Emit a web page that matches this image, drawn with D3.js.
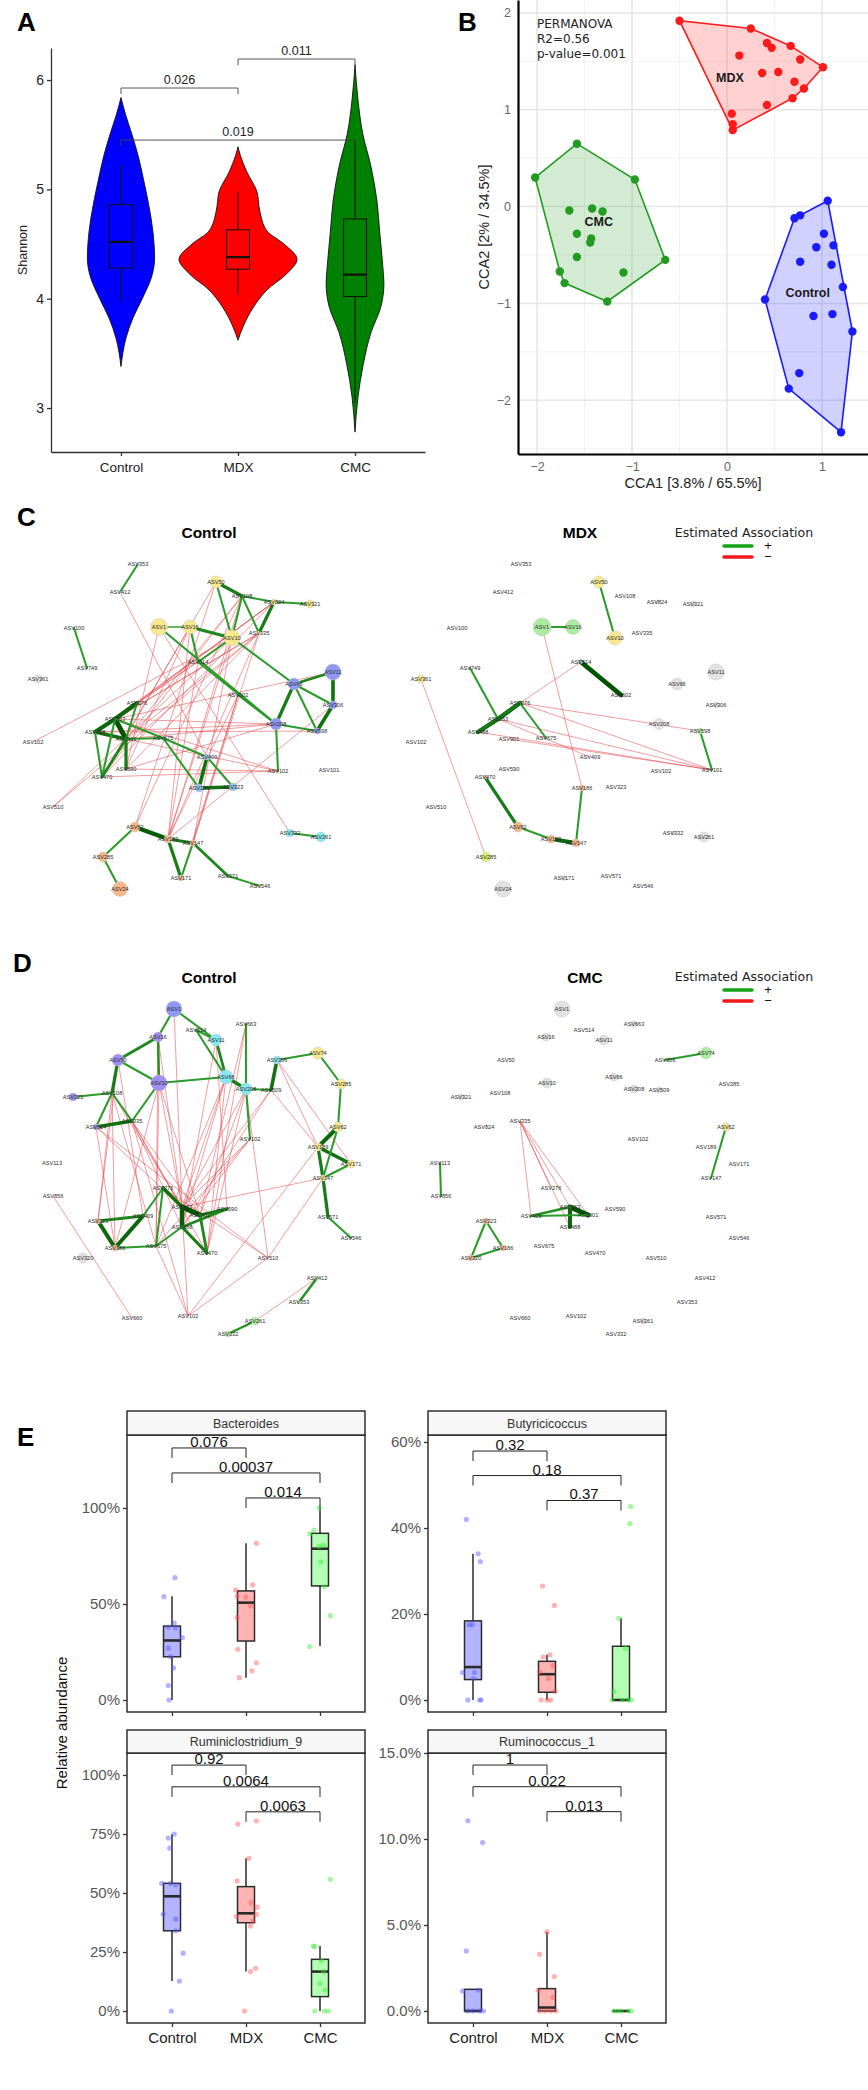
<!DOCTYPE html>
<html>
<head>
<meta charset="utf-8">
<script src="https://cdn.jsdelivr.net/npm/d3@7"></script>
<style>
  body { margin: 0; background: #fff; }
  svg text { font-family: "Liberation Sans", Arial, sans-serif; }
</style>
</head>
<body>
<div id="figure"></div>
<script>
var groups = ["Control", "MDX", "CMC"];

// ---- A: Shannon index (violin outline as [value, relative density]) ----
var shannonTicks = [3, 4, 5, 6];
var violinControl = [[3.38, 0], [3.64, 0.085], [3.82, 0.2], [4.0, 0.36], [4.22, 0.53], [4.37, 0.57], [4.62, 0.54], [4.86, 0.47], [5.07, 0.39], [5.31, 0.29], [5.53, 0.17], [5.68, 0.08], [5.84, 0]];
var violinMDX = [[3.62, 0], [3.75, 0.09], [3.93, 0.27], [4.08, 0.49], [4.23, 0.83], [4.36, 1.0], [4.5, 0.78], [4.62, 0.49], [4.8, 0.37], [4.98, 0.32], [5.16, 0.15], [5.31, 0.04], [5.39, 0]];
var violinCMC = [[2.78, 0], [3.1, 0.05], [3.4, 0.14], [3.69, 0.27], [3.93, 0.44], [4.14, 0.49], [4.3, 0.47], [4.6, 0.42], [4.9, 0.37], [5.21, 0.27], [5.51, 0.13], [5.82, 0.05], [6.14, 0]];
// [lower whisker, q1, median, q3, upper whisker]
var shannonBoxes = [[3.97, 4.28, 4.52, 4.86, 5.22], [4.04, 4.27, 4.38, 4.63, 4.98], [3.05, 4.02, 4.22, 4.73, 5.45]];
var shannonTests = [["Control", "MDX", "0.026", 5.927], ["MDX", "CMC", "0.011", 6.192], ["Control", "CMC", "0.019", 5.451]];

// ---- B: CCA ordination ----
var ccaXTicks = [-2, -1, 0, 1];
var ccaYTicks = [-2, -1, 0, 1, 2];
var ccaMDX = [[-0.5, 1.92], [0.25, 1.84], [0.42, 1.69], [0.47, 1.64], [0.67, 1.66], [0.13, 1.56], [0.77, 1.52], [1.01, 1.44], [0.37, 1.38], [0.54, 1.39], [0.71, 1.29], [0.81, 1.22], [0.69, 1.12], [0.42, 1.05], [0.05, 0.96], [0.06, 0.85], [0.06, 0.79]];
var ccaCMC = [[-1.58, 0.65], [-2.02, 0.3], [-0.97, 0.28], [-1.66, -0.04], [-1.42, -0.02], [-1.31, -0.05], [-1.58, -0.28], [-1.43, -0.33], [-1.44, -0.37], [-1.58, -0.52], [-0.65, -0.55], [-1.76, -0.67], [-1.09, -0.68], [-1.71, -0.79], [-1.26, -0.98]];
var ccaControl = [[1.06, 0.06], [0.77, -0.09], [0.71, -0.12], [1.02, -0.28], [0.94, -0.42], [1.12, -0.4], [0.77, -0.57], [1.1, -0.6], [1.22, -0.83], [0.4, -0.96], [0.91, -1.13], [1.11, -1.11], [1.32, -1.29], [0.76, -1.72], [0.65, -1.88], [1.2, -2.33]];
var ccaLabels = [["MDX", 0.03, 1.33], ["CMC", -1.35, -0.16], ["Control", 0.85, -0.89]];
var permanova = ["PERMANOVA", "R2=0.56", "p-value=0.001"];

// ---- C: networks Control / MDX (shared layout) ----
var layoutC = [["ASV353", 138, 4], ["ASV412", 120, 32], ["ASV100", 74, 68], ["ASV749", 87, 108], ["ASV361", 38, 119],
  ["ASV50", 216, 22], ["ASV108", 242, 36], ["ASV824", 274, 42], ["ASV321", 310, 44], ["ASV1", 159, 67],
  ["ASV16", 190, 67], ["ASV10", 232, 78], ["ASV335", 259, 73], ["ASV514", 198, 102], ["ASV66", 294, 124],
  ["ASV11", 333, 112], ["ASV602", 238, 135], ["ASV276", 137, 143], ["ASV263", 115, 159], ["ASV488", 95, 172],
  ["ASV102'", 33, 182], ["ASV901", 126, 179], ["ASV675", 163, 178], ["ASV208", 276, 164], ["ASV306", 333, 145],
  ["ASV598", 317, 171], ["ASV409", 207, 197], ["ASV590", 126, 209], ["ASV102", 278, 211], ["ASV101", 329, 210],
  ["ASV470", 102, 217], ["ASV186", 199, 228], ["ASV323", 233, 227], ["ASV510", 53, 247], ["ASV62", 135, 267],
  ["ASV332", 290, 273], ["ASV261", 321, 277], ["ASV189", 168, 279], ["ASV147", 193, 283], ["ASV285", 103, 297],
  ["ASV571", 228, 316], ["ASV171", 181, 318], ["ASV546", 260, 326], ["ASV24", 120, 329]];
// node cluster colour code and radius
var nodesCControl = { ASV353: ["c", 1.5], ASV412: ["c", 1.5], ASV361: ["g", 4], ASV50: ["y", 6], ASV824: ["y", 3], ASV321: ["y", 4],
  ASV1: ["y", 8.5], ASV16: ["y", 7], ASV10: ["y", 8], ASV335: ["y", 2], ASV66: ["b", 6], ASV11: ["b", 8], ASV208: ["b", 6],
  ASV306: ["b", 4], ASV598: ["b", 3], ASV409: ["lb", 3], ASV186: ["lb", 4], ASV323: ["lb", 4], ASV62: ["o", 5],
  ASV332: ["c", 4], ASV261: ["c", 5], ASV189: ["o", 4], ASV147: ["o", 3], ASV285: ["o", 5], ASV171: ["o", 3],
  ASV546: ["o", 1.5], ASV24: ["o", 7.5] };
var nodesCMDX = { ASV1: ["lg", 9], ASV16: ["lg", 7.5], ASV50: ["y", 6], ASV10: ["y", 7], ASV11: ["g", 8], ASV66: ["g", 6],
  ASV208: ["g", 5.5], ASV306: ["g", 3], ASV598: ["lg", 3], ASV361: ["y", 4], ASV62: ["o", 5], ASV189: ["o", 4],
  ASV147: ["o", 4], ASV186: ["o", 3], ASV285: ["yg", 5], ASV24: ["g", 8], ASV171: ["g", 2.5], ASV332: ["g", 2],
  ASV261: ["g", 5], ASV321: ["g", 3], ASV514: ["c", 1.5], ASV824: ["g", 2], ASV470: ["o", 2] };
var edgesCControl = [["ASV353", "ASV412", 0.3], ["ASV100", "ASV749", 0.3], ["ASV1", "ASV16", 0.2], ["ASV16", "ASV10", 0.5],
  ["ASV50", "ASV108", 0.6], ["ASV50", "ASV10", 0.3], ["ASV108", "ASV824", 0.3], ["ASV108", "ASV10", 0.3], ["ASV108", "ASV335", 0.3],
  ["ASV824", "ASV335", 0.6], ["ASV824", "ASV321", 0.3], ["ASV10", "ASV514", 0.3], ["ASV16", "ASV514", 0.3], ["ASV1", "ASV208", 0.3],
  ["ASV10", "ASV66", 0.3], ["ASV66", "ASV11", 0.5], ["ASV11", "ASV306", 0.7], ["ASV66", "ASV306", 0.3], ["ASV306", "ASV598", 0.7],
  ["ASV66", "ASV598", 0.3], ["ASV66", "ASV208", 0.6], ["ASV208", "ASV102", 0.3], ["ASV602", "ASV208", 0.3], ["ASV208", "ASV598", 0.3],
  ["ASV675", "ASV186", 0.3], ["ASV675", "ASV409", 0.3], ["ASV409", "ASV186", 0.7], ["ASV186", "ASV323", 0.7], ["ASV409", "ASV323", 0.3],
  ["ASV276", "ASV263", 0.8], ["ASV263", "ASV901", 1.0], ["ASV488", "ASV263", 0.8], ["ASV488", "ASV901", 0.7], ["ASV276", "ASV901", 0.3],
  ["ASV901", "ASV590", 0.6], ["ASV488", "ASV470", 0.3], ["ASV263", "ASV470", 0.3], ["ASV901", "ASV470", 0.5], ["ASV901", "ASV675", 0.3],
  ["ASV263", "ASV675", 0.3], ["ASV62", "ASV189", 0.9], ["ASV62", "ASV285", 0.3], ["ASV285", "ASV24", 0.3], ["ASV189", "ASV147", 0.6],
  ["ASV189", "ASV171", 0.6], ["ASV147", "ASV171", 0.3], ["ASV147", "ASV571", 0.5], ["ASV571", "ASV546", 0.3], ["ASV332", "ASV261", 0.3],
  ["ASV514", "ASV208", 0.3],
  ["ASV412", "ASV409", -1], ["ASV16", "ASV470", -1], ["ASV16", "ASV590", -1], ["ASV16", "ASV189", -1], ["ASV10", "ASV488", -1],
  ["ASV10", "ASV263", -1], ["ASV10", "ASV102'", -1], ["ASV10", "ASV189", -1], ["ASV10", "ASV147", -1], ["ASV10", "ASV510", -1],
  ["ASV108", "ASV470", -1], ["ASV108", "ASV901", -1], ["ASV108", "ASV189", -1], ["ASV108", "ASV62", -1], ["ASV335", "ASV488", -1],
  ["ASV335", "ASV263", -1], ["ASV335", "ASV510", -1], ["ASV335", "ASV189", -1], ["ASV335", "ASV901", -1], ["ASV335", "ASV147", -1],
  ["ASV335", "ASV590", -1], ["ASV824", "ASV488", -1], ["ASV824", "ASV263", -1], ["ASV824", "ASV276", -1], ["ASV824", "ASV470", -1],
  ["ASV602", "ASV189", -1], ["ASV602", "ASV147", -1], ["ASV602", "ASV171", -1], ["ASV208", "ASV488", -1], ["ASV208", "ASV263", -1],
  ["ASV208", "ASV901", -1], ["ASV208", "ASV590", -1], ["ASV102", "ASV263", -1], ["ASV102", "ASV590", -1], ["ASV102", "ASV470", -1],
  ["ASV102", "ASV901", -1], ["ASV306", "ASV189", -1], ["ASV1", "ASV332", -1], ["ASV50", "ASV470", -1], ["ASV50", "ASV62", -1],
  ["ASV1", "ASV590", -1], ["ASV514", "ASV189", -1], ["ASV11", "ASV263", -1], ["ASV598", "ASV488", -1]];
var edgesCMDX = [["ASV1", "ASV16", 0.3], ["ASV50", "ASV10", 0.3], ["ASV514", "ASV602", 1.0], ["ASV749", "ASV263", 0.3],
  ["ASV276", "ASV263", 0.9], ["ASV263", "ASV488", 0.9], ["ASV276", "ASV488", 0.6], ["ASV276", "ASV675", 0.3], ["ASV598", "ASV101", 0.3],
  ["ASV470", "ASV62", 0.6], ["ASV62", "ASV189", 0.3], ["ASV189", "ASV147", 0.8], ["ASV186", "ASV147", 0.3],
  ["ASV1", "ASV186", -1], ["ASV514", "ASV276", -1], ["ASV361", "ASV285", -1], ["ASV276", "ASV101", -1], ["ASV263", "ASV101", -1],
  ["ASV488", "ASV101", -1], ["ASV901", "ASV101", -1], ["ASV276", "ASV598", -1], ["ASV263", "ASV409", -1]];

// ---- D: networks Control / CMC (shared layout) ----
var layoutD = [["ASV1", 174, 9], ["ASV16", 158, 37], ["ASV514", 196, 30], ["ASV11", 216, 40], ["ASV663", 246, 24], ["ASV50", 118, 60],
  ["ASV306", 277, 60], ["ASV74", 318, 53], ["ASV66", 226, 77], ["ASV10", 159, 83], ["ASV208", 246, 89], ["ASV509", 271, 90],
  ["ASV285", 341, 84], ["ASV108", 112, 93], ["ASV321", 73, 97], ["ASV335", 132, 121], ["ASV824", 96, 127], ["ASV62", 338, 127],
  ["ASV102", 250, 139], ["ASV189", 318, 147], ["ASV113", 52, 163], ["ASV171", 351, 164], ["ASV147", 323, 178], ["ASV276", 163, 188],
  ["ASV856", 53, 196], ["ASV263", 182, 207], ["ASV590", 227, 209], ["ASV901", 200, 215], ["ASV409", 143, 216], ["ASV571", 328, 217],
  ["ASV323", 98, 221], ["ASV488", 182, 227], ["ASV546", 351, 238], ["ASV675", 156, 246], ["ASV186", 115, 248], ["ASV470", 207, 253],
  ["ASV320", 83, 258], ["ASV510", 268, 258], ["ASV412", 317, 278], ["ASV353", 299, 302], ["ASV102'", 188, 316], ["ASV660", 132, 318],
  ["ASV261", 255, 321], ["ASV332", 228, 334]];
var nodesDControl = { ASV1: ["b", 8], ASV16: ["p", 5], ASV50: ["p", 6], ASV10: ["p", 8], ASV321: ["p", 4], ASV824: ["p", 3],
  ASV11: ["c", 6], ASV66: ["c", 7], ASV208: ["c", 6], ASV306: ["c", 4], ASV74: ["y", 6], ASV285: ["y", 5], ASV62: ["y", 5],
  ASV189: ["y", 4], ASV171: ["y", 4], ASV147: ["y", 3], ASV323: ["o", 3], ASV186: ["o", 3], ASV320: ["g", 5],
  ASV261: ["lg", 4], ASV332: ["lg", 3], ASV412: ["lg", 2], ASV353: ["lg", 2] };
var nodesDCMC = { ASV1: ["g", 8], ASV16: ["g", 4], ASV11: ["g", 5], ASV10: ["g", 5], ASV66: ["g", 4], ASV208: ["g", 4],
  ASV321: ["g", 3], ASV509: ["g", 3], ASV663: ["g", 3], ASV74: ["lg", 6], ASV62: ["y", 4], ASV323: ["o", 3], ASV186: ["o", 3],
  ASV320: ["o", 3], ASV261: ["g", 3] };
var edgesDControl = [["ASV1", "ASV16", 0.3], ["ASV1", "ASV11", 0.3], ["ASV16", "ASV50", 0.5], ["ASV16", "ASV10", 0.4], ["ASV11", "ASV66", 0.5],
  ["ASV514", "ASV66", 0.3], ["ASV663", "ASV208", 0.3], ["ASV11", "ASV514", 0.3], ["ASV10", "ASV66", 0.3], ["ASV66", "ASV208", 0.6],
  ["ASV208", "ASV509", 0.3], ["ASV306", "ASV509", 0.7], ["ASV208", "ASV102", 0.3], ["ASV50", "ASV108", 0.6], ["ASV50", "ASV10", 0.3],
  ["ASV321", "ASV108", 0.3], ["ASV108", "ASV824", 0.3], ["ASV108", "ASV335", 0.3], ["ASV824", "ASV335", 0.7], ["ASV10", "ASV335", 0.3],
  ["ASV74", "ASV285", 0.3], ["ASV74", "ASV306", 0.3], ["ASV285", "ASV62", 0.3], ["ASV62", "ASV189", 0.8], ["ASV189", "ASV171", 0.7],
  ["ASV189", "ASV147", 0.6], ["ASV62", "ASV147", 0.3], ["ASV147", "ASV171", 0.3], ["ASV147", "ASV571", 0.6], ["ASV571", "ASV546", 0.3],
  ["ASV412", "ASV353", 0.4], ["ASV276", "ASV263", 0.7], ["ASV263", "ASV901", 1.0], ["ASV263", "ASV488", 0.9], ["ASV901", "ASV590", 0.6],
  ["ASV488", "ASV590", 0.5], ["ASV488", "ASV470", 0.6], ["ASV901", "ASV470", 0.5], ["ASV276", "ASV675", 0.3], ["ASV488", "ASV675", 0.3],
  ["ASV323", "ASV409", 0.5], ["ASV323", "ASV186", 0.8], ["ASV409", "ASV186", 0.8], ["ASV186", "ASV675", 0.3], ["ASV261", "ASV332", 0.4],
  ["ASV409", "ASV276", 0.3],
  ["ASV108", "ASV186", -1], ["ASV108", "ASV323", -1], ["ASV108", "ASV675", -1], ["ASV108", "ASV263", -1], ["ASV335", "ASV263", -1],
  ["ASV335", "ASV488", -1], ["ASV335", "ASV470", -1], ["ASV335", "ASV901", -1], ["ASV335", "ASV102'", -1], ["ASV824", "ASV186", -1],
  ["ASV824", "ASV263", -1], ["ASV824", "ASV510", -1], ["ASV10", "ASV675", -1], ["ASV10", "ASV186", -1], ["ASV10", "ASV263", -1],
  ["ASV10", "ASV901", -1], ["ASV66", "ASV263", -1], ["ASV66", "ASV488", -1], ["ASV66", "ASV675", -1], ["ASV66", "ASV470", -1],
  ["ASV208", "ASV263", -1], ["ASV208", "ASV901", -1], ["ASV208", "ASV470", -1], ["ASV208", "ASV510", -1], ["ASV102", "ASV488", -1],
  ["ASV102", "ASV675", -1], ["ASV102", "ASV263", -1], ["ASV509", "ASV263", -1], ["ASV509", "ASV488", -1], ["ASV509", "ASV189", -1],
  ["ASV306", "ASV189", -1], ["ASV306", "ASV171", -1], ["ASV856", "ASV660", -1], ["ASV102'", "ASV675", -1], ["ASV102'", "ASV263", -1],
  ["ASV102'", "ASV510", -1], ["ASV412", "ASV261", -1], ["ASV147", "ASV510", -1], ["ASV189", "ASV102'", -1], ["ASV50", "ASV323", -1],
  ["ASV50", "ASV409", -1], ["ASV16", "ASV263", -1], ["ASV16", "ASV675", -1], ["ASV1", "ASV263", -1], ["ASV11", "ASV488", -1],
  ["ASV11", "ASV590", -1], ["ASV663", "ASV901", -1], ["ASV663", "ASV470", -1], ["ASV276", "ASV510", -1], ["ASV263", "ASV147", -1]];
var edgesDCMC = [["ASV113", "ASV856", 0.3], ["ASV323", "ASV186", 0.3], ["ASV323", "ASV320", 0.3], ["ASV186", "ASV320", 0.3],
  ["ASV263", "ASV901", 1.0], ["ASV263", "ASV488", 0.8], ["ASV409", "ASV263", 0.4], ["ASV409", "ASV901", 0.3], ["ASV74", "ASV306", 0.3],
  ["ASV62", "ASV147", 0.3],
  ["ASV335", "ASV263", -1], ["ASV335", "ASV488", -1], ["ASV335", "ASV409", -1], ["ASV335", "ASV901", -1], ["ASV335", "ASV276", -1]];

// ---- E: relative abundance by genus ----
// box stats [lower whisker, q1, median, q3, upper whisker] per group; points [value, jitter]
var bacteroidesBoxes = [[0.0, 0.225, 0.31, 0.385, 0.54], [0.116, 0.307, 0.507, 0.568, 0.816], [0.281, 0.594, 0.788, 0.868, 1.0]];
var bacteroidesPts = [
  [[0.637, 0.04], [0.538, -0.11], [0.40, 0.03], [0.38, -0.05], [0.375, 0.05], [0.325, 0.14], [0.27, -0.05], [0.225, -0.02], [0.167, 0.02], [0.075, -0.05], [0.0, -0.04]],
  [[0.816, 0.14], [0.60, 0.09], [0.573, -0.14], [0.54, -0.12], [0.536, 0.0], [0.49, 0.06], [0.43, -0.12], [0.264, -0.11], [0.194, 0.14], [0.152, 0.08], [0.116, -0.09]],
  [[1.0, -0.01], [0.885, -0.08], [0.865, -0.14], [0.806, 0.05], [0.80, -0.01], [0.72, 0.01], [0.59, 0.06], [0.439, 0.14], [0.278, -0.14]]];
var bacteroidesTests = [["Control", "MDX", "0.076", 1.3125], ["Control", "CMC", "0.00037", 1.1823], ["MDX", "CMC", "0.014", 1.0521]];

var butyricicoccusBoxes = [[0.0, 0.0475, 0.0766, 0.184, 0.34], [0.0, 0.018, 0.06, 0.09, 0.105], [0.0, 0.0, 0.0, 0.125, 0.19]];
var butyricicoccusPts = [
  [[0.42, -0.09], [0.34, 0.07], [0.322, 0.1], [0.175, -0.05], [0.175, -0.01], [0.064, -0.14], [0.064, 0.02], [0.05, 0.01], [0.0, -0.07], [0.0, 0.09], [0.0, 0.11]],
  [[0.265, -0.06], [0.22, 0.1], [0.105, 0.04], [0.1, -0.05], [0.08, 0.08], [0.065, -0.1], [0.05, 0.02], [0.02, 0.11], [0.0, -0.08], [0.0, 0.05], [0.0, 0.0]],
  [[0.45, 0.13], [0.41, 0.12], [0.19, -0.03], [0.12, 0.06], [0.02, -0.1], [0.0, -0.12], [0.0, 0.1], [0.0, 0.02], [0.0, 0.14]]];
var butyricicoccusTests = [["Control", "MDX", "0.32", 0.579], ["Control", "CMC", "0.18", 0.522], ["MDX", "CMC", "0.37", 0.464]];

var ruminiclostridiumBoxes = [[0.127, 0.34, 0.486, 0.541, 0.749], [0.167, 0.374, 0.414, 0.527, 0.647], [0.0, 0.061, 0.167, 0.219, 0.275]];
var ruminiclostridiumPts = [
  [[0.75, 0.03], [0.733, -0.05], [0.69, -0.03], [0.541, -0.14], [0.541, -0.02], [0.535, 0.05], [0.41, -0.12], [0.389, 0.05], [0.34, 0.05], [0.245, 0.15], [0.127, 0.1], [0.0, -0.01]],
  [[0.805, 0.14], [0.792, -0.11], [0.647, 0.04], [0.551, -0.12], [0.459, 0.07], [0.44, 0.15], [0.41, 0.14], [0.40, -0.13], [0.38, 0.1], [0.36, 0.06], [0.181, 0.13], [0.167, 0.06], [0.0, -0.02]],
  [[0.558, 0.14], [0.275, -0.09], [0.273, -0.07], [0.213, 0.02], [0.167, 0.05], [0.117, 0.0], [0.089, 0.07], [0.0, -0.07], [0.0, 0.06], [0.0, 0.11]]];
var ruminiclostridiumTests = [["Control", "MDX", "0.92", 1.042], ["Control", "CMC", "0.0064", 0.950], ["MDX", "CMC", "0.0063", 0.844]];

var ruminococcusBoxes = [[0.0, 0.0, 0.0, 0.0126, 0.0126], [0.0, 0.0, 0.002, 0.013, 0.046], [0.0, 0.0, 0.0, 0.0, 0.0]];
var ruminococcusPts = [
  [[0.1106, -0.07], [0.0979, 0.13], [0.0349, -0.09], [0.0116, -0.14], [0.0122, 0.07], [0.0, -0.07], [0.0, 0.0], [0.0, 0.09], [0.0, 0.14]],
  [[0.046, 0.0], [0.033, -0.1], [0.02, 0.1], [0.012, -0.12], [0.008, 0.08], [0.0, -0.1], [0.0, 0.05], [0.0, 0.12], [0.0, -0.03]],
  [[0.0, -0.1], [0.0, 0.0], [0.0, 0.1], [0.0, 0.14], [0.0, -0.05]]];
var ruminococcusTests = [["Control", "MDX", "1", 0.1430], ["Control", "CMC", "0.022", 0.1304], ["MDX", "CMC", "0.013", 0.1159]];

// ------------------------------------------------------------------
var svg = d3.select("#figure").append("svg")
    .attr("width", 868)
    .attr("height", 2090)
    .style("background", "#fff");

function panelLabel(t, x, y) {
    svg.append("text").attr("x", x).attr("y", y)
        .attr("font-size", 26).attr("font-weight", "bold").attr("fill", "#000").text(t);
}
panelLabel("A", 17, 31);
panelLabel("B", 458, 31);
panelLabel("C", 17, 526);
panelLabel("D", 13, 972);
panelLabel("E", 17, 1446);

function styleAxis(g, color, size, width) {
    g.selectAll("text").attr("fill", color).attr("font-size", size)
        .style("font-family", "'Liberation Sans', Arial, sans-serif");
    g.selectAll("line").attr("stroke", "#333").attr("stroke-width", width);
    g.select(".domain").attr("stroke", "#333").attr("stroke-width", width);
}

// ================= A =================
var groupFill = ["#0000ff", "#ff0000", "#008000"];
var aX = d3.scalePoint().domain(groups).range([51, 425]).padding(0.598);
var aY = d3.scaleLinear().domain([2.598, 6.293]).range([452, 48]);
var aW = d3.scaleLinear().domain([0, 1]).range([0, 59]);
var pa = svg.append("g");

[violinControl, violinMDX, violinCMC].forEach(function (v, i) {
    var cx = aX(groups[i]);
    var area = d3.area().curve(d3.curveMonotoneY)
        .y(function (d) { return aY(d[0]); })
        .x0(function (d) { return cx - aW(d[1]); })
        .x1(function (d) { return cx + aW(d[1]); });
    pa.append("path").attr("d", area(v))
        .attr("fill", groupFill[i]).attr("stroke", "#111").attr("stroke-width", 0.9);
});

shannonBoxes.forEach(function (b, i) {
    var cx = aX(groups[i]), hw = 11.5;
    pa.append("line").attr("x1", cx).attr("x2", cx).attr("y1", aY(b[0])).attr("y2", aY(b[4]))
        .attr("stroke", "#111").attr("stroke-width", 1);
    pa.append("rect").attr("x", cx - hw).attr("y", aY(b[3])).attr("width", 2 * hw)
        .attr("height", aY(b[1]) - aY(b[3]))
        .attr("fill", groupFill[i]).attr("stroke", "#111").attr("stroke-width", 1);
    pa.append("line").attr("x1", cx - hw).attr("x2", cx + hw).attr("y1", aY(b[2])).attr("y2", aY(b[2]))
        .attr("stroke", "#111").attr("stroke-width", 2.2);
});

shannonTests.forEach(function (t) {
    var x1 = aX(t[0]), x2 = aX(t[1]), y = aY(t[3]);
    pa.append("path").attr("d", "M" + x1 + "," + (y + 6) + "V" + y + "H" + x2 + "V" + (y + 6))
        .attr("fill", "none").attr("stroke", "#444").attr("stroke-width", 0.9);
    pa.append("text").attr("x", (x1 + x2) / 2).attr("y", y - 4).attr("text-anchor", "middle")
        .attr("font-size", 12.5).attr("fill", "#222").text(t[2]);
});

var aAxisY = pa.append("g").attr("transform", "translate(51,0)")
    .call(d3.axisLeft(aY).tickValues(shannonTicks).tickSize(4).tickSizeOuter(0).tickFormat(d3.format("d")));
styleAxis(aAxisY, "#222", 14, 1.3);
var aAxisX = pa.append("g").attr("transform", "translate(0,452)")
    .call(d3.axisBottom(aX).tickSize(4).tickSizeOuter(0));
styleAxis(aAxisX, "#222", 13.5, 1.3);
aAxisX.selectAll("text").attr("dy", "0.95em");
pa.append("text").attr("transform", "translate(27,250) rotate(-90)").attr("text-anchor", "middle")
    .attr("font-size", 12.5).attr("fill", "#222").text("Shannon");

// ================= B =================
var bX = d3.scaleLinear().domain([-2.2, 1.484]).range([518, 868]);
var bY = d3.scaleLinear().domain([-2.555, 2.134]).range([454, 0]);
var pb = svg.append("g");
var bxMinor = [-1.5, -0.5, 0.5], byMinor = [-2.5, -1.5, -0.5, 0.5, 1.5];
pb.selectAll(".gxm").data(bxMinor).enter().append("line")
    .attr("x1", bX).attr("x2", bX).attr("y1", 0).attr("y2", 454).attr("stroke", "#f0f0f0").attr("stroke-width", 0.8);
pb.selectAll(".gym").data(byMinor).enter().append("line")
    .attr("y1", bY).attr("y2", bY).attr("x1", 518).attr("x2", 868).attr("stroke", "#f0f0f0").attr("stroke-width", 0.8);
pb.selectAll(".gx").data(ccaXTicks).enter().append("line")
    .attr("x1", bX).attr("x2", bX).attr("y1", 0).attr("y2", 454).attr("stroke", "#e6e6e6").attr("stroke-width", 1.5);
pb.selectAll(".gy").data(ccaYTicks).enter().append("line")
    .attr("y1", bY).attr("y2", bY).attr("x1", 518).attr("x2", 868).attr("stroke", "#e6e6e6").attr("stroke-width", 1.5);

var ccaSets = [ccaControl, ccaMDX, ccaCMC];
var ccaColor = ["#1a1aff", "#ff1a1a", "#239b23"];
ccaSets.forEach(function (set, i) {
    var px = set.map(function (d) { return [bX(d[0]), bY(d[1])]; });
    var hull = d3.polygonHull(px);
    pb.append("path").attr("d", "M" + hull.join("L") + "Z")
        .attr("fill", ccaColor[i]).attr("fill-opacity", 0.2)
        .attr("stroke", ccaColor[i]).attr("stroke-width", 1.6);
});
ccaSets.forEach(function (set, i) {
    pb.selectAll(".pt" + i).data(set).enter().append("circle")
        .attr("cx", function (d) { return bX(d[0]); })
        .attr("cy", function (d) { return bY(d[1]); })
        .attr("r", 4.2).attr("fill", ccaColor[i]);
});
pb.selectAll(".glab").data(ccaLabels).enter().append("text")
    .attr("x", function (d) { return bX(d[1]); })
    .attr("y", function (d) { return bY(d[2]); })
    .attr("dy", "0.35em").attr("text-anchor", "middle")
    .attr("font-size", 12.5).attr("font-weight", "bold").attr("fill", "#1a1a1a")
    .text(function (d) { return d[0]; });
pb.selectAll(".perm").data(permanova).enter().append("text")
    .attr("x", 537).attr("y", function (d, i) { return 28 + i * 15; })
    .attr("font-size", 12).attr("fill", "#222")
    .style("font-family", "'DejaVu Sans', sans-serif")
    .text(function (d) { return d; });

var bAxisY = pb.append("g").attr("transform", "translate(518,0)")
    .call(d3.axisLeft(bY).tickValues(ccaYTicks).tickFormat(d3.format("d")).tickSize(0).tickPadding(7).tickSizeOuter(0));
styleAxis(bAxisY, "#666", 12.5, 2.2);
bAxisY.select(".domain").attr("stroke", "#000");
var bAxisX = pb.append("g").attr("transform", "translate(0,454)")
    .call(d3.axisBottom(bX).tickValues(ccaXTicks).tickFormat(d3.format("d")).tickSize(0).tickPadding(8).tickSizeOuter(0));
styleAxis(bAxisX, "#666", 12.5, 2.2);
bAxisX.select(".domain").attr("stroke", "#000");
pb.append("text").attr("x", 693).attr("y", 488).attr("text-anchor", "middle")
    .attr("font-size", 14.5).attr("fill", "#222").text("CCA1 [3.8% / 65.5%]");
pb.append("text").attr("transform", "translate(489,227) rotate(-90)").attr("text-anchor", "middle")
    .attr("font-size", 14.5).attr("fill", "#222").text("CCA2 [2% / 34.5%]");

// ================= C / D networks =================
var nodePalette = { y: "#f8e88e", b: "#8f98f3", p: "#a08ef2", lb: "#8cc4ef", o: "#f6b88b",
    c: "#86e9f1", lg: "#acec9f", g: "#e2e2e2", yg: "#dcf07c" };
var edgeWidth = d3.scaleLinear().domain([0, 1]).range([0.9, 4.8]);
var edgeColor = d3.scaleLinear().domain([0, 1]).range(["#3dba3d", "#005300"]);

function drawNetwork(layout, nodeInfo, edges, ox, oy) {
    var g = svg.append("g");
    var nx = d3.scaleLinear().domain([0, 360]).range([ox, ox + 360]);
    var ny = d3.scaleLinear().domain([0, 340]).range([oy, oy + 340]);
    var pos = {};
    layout.forEach(function (d) { pos[d[0]] = [nx(d[1]), ny(d[2])]; });
    var negs = edges.filter(function (e) { return e[2] < 0; });
    var poss = edges.filter(function (e) { return e[2] > 0; });
    g.selectAll(".neg").data(negs).enter().append("line")
        .attr("x1", function (e) { return pos[e[0]][0]; }).attr("y1", function (e) { return pos[e[0]][1]; })
        .attr("x2", function (e) { return pos[e[1]][0]; }).attr("y2", function (e) { return pos[e[1]][1]; })
        .attr("stroke", "#e2383d").attr("stroke-opacity", 0.62).attr("stroke-width", 0.8);
    g.selectAll(".pos").data(poss).enter().append("line")
        .attr("x1", function (e) { return pos[e[0]][0]; }).attr("y1", function (e) { return pos[e[0]][1]; })
        .attr("x2", function (e) { return pos[e[1]][0]; }).attr("y2", function (e) { return pos[e[1]][1]; })
        .attr("stroke", function (e) { return edgeColor(e[2]); })
        .attr("stroke-width", function (e) { return edgeWidth(e[2]); })
        .attr("stroke-linecap", "round");
    var withNode = layout.filter(function (d) { return nodeInfo[d[0]]; });
    g.selectAll(".node").data(withNode).enter().append("circle")
        .attr("cx", function (d) { return nx(d[1]); }).attr("cy", function (d) { return ny(d[2]); })
        .attr("r", function (d) { return nodeInfo[d[0]][1]; })
        .attr("fill", function (d) { return nodePalette[nodeInfo[d[0]][0]]; })
        .attr("stroke", "#c8c8c8").attr("stroke-width", 0.5);
    g.selectAll(".lab").data(layout).enter().append("text")
        .attr("x", function (d) { return nx(d[1]); }).attr("y", function (d) { return ny(d[2]); })
        .attr("dy", "0.35em").attr("text-anchor", "middle")
        .attr("font-size", 5.6).attr("fill", "#2a2a2a")
        .text(function (d) { return d[0].replace("'", ""); });
}

function netTitle(t, x, y) {
    svg.append("text").attr("x", x).attr("y", y).attr("text-anchor", "middle")
        .attr("font-size", 15.5).attr("font-weight", "bold").attr("fill", "#000").text(t);
}
function netLegend(y) {
    var g = svg.append("g");
    g.append("text").attr("x", 744).attr("y", y).attr("text-anchor", "middle")
        .attr("font-size", 12.5).attr("fill", "#222").style("font-family", "'DejaVu Sans', sans-serif")
        .text("Estimated Association");
    g.append("line").attr("x1", 724).attr("x2", 752).attr("y1", y + 9).attr("y2", y + 9)
        .attr("stroke", "#13a313").attr("stroke-width", 3.5).attr("stroke-linecap", "round");
    g.append("line").attr("x1", 724).attr("x2", 752).attr("y1", y + 20).attr("y2", y + 20)
        .attr("stroke", "#f01818").attr("stroke-width", 3.5).attr("stroke-linecap", "round");
    g.append("text").attr("x", 768).attr("y", y + 13).attr("text-anchor", "middle")
        .attr("font-size", 13).attr("fill", "#111").text("+");
    g.append("text").attr("x", 768).attr("y", y + 24).attr("text-anchor", "middle")
        .attr("font-size", 13).attr("fill", "#111").text("\u2212");
}

netTitle("Control", 209, 538);
netTitle("MDX", 580, 538);
netLegend(537);
drawNetwork(layoutC, nodesCControl, edgesCControl, 0, 560);
drawNetwork(layoutC, nodesCMDX, edgesCMDX, 383, 560);

netTitle("Control", 209, 983);
netTitle("CMC", 585, 983);
netLegend(981);
drawNetwork(layoutD, nodesDControl, edgesDControl, 0, 1000);
drawNetwork(layoutD, nodesDCMC, edgesDCMC, 388, 1000);

// ================= E =================
var boxFill = ["#b3b3ff", "#ffb3b3", "#b3ffb3"];
var ptColor = ["#5555ff", "#ff5555", "#33ee33"];
var facets = [
    { name: "Bacteroides", boxes: bacteroidesBoxes, pts: bacteroidesPts, tests: bacteroidesTests,
      ticks: [0, 0.5, 1], fmt: ".0%", dom: [-0.0625, 1.38], x0: 127, strip: 1411, top: 1435, bottom: 1712, labels: false },
    { name: "Butyricicoccus", boxes: butyricicoccusBoxes, pts: butyricicoccusPts, tests: butyricicoccusTests,
      ticks: [0, 0.2, 0.4, 0.6], fmt: ".0%", dom: [-0.0279, 0.6163], x0: 428, strip: 1411, top: 1435, bottom: 1712, labels: false },
    { name: "Ruminiclostridium_9", boxes: ruminiclostridiumBoxes, pts: ruminiclostridiumPts, tests: ruminiclostridiumTests,
      ticks: [0, 0.25, 0.5, 0.75, 1], fmt: ".0%", dom: [-0.0508, 1.0932], x0: 127, strip: 1730, top: 1753, bottom: 2023, labels: true },
    { name: "Ruminococcus_1", boxes: ruminococcusBoxes, pts: ruminococcusPts, tests: ruminococcusTests,
      ticks: [0, 0.05, 0.1, 0.15], fmt: ".1%", dom: [-0.00698, 0.15], x0: 428, strip: 1730, top: 1753, bottom: 2023, labels: true }
];
var facetW = 238;

facets.forEach(function (f, fi) {
    var g = svg.append("g");
    var x = d3.scalePoint().domain(groups).range([f.x0, f.x0 + facetW]).padding(0.608);
    var y = d3.scaleLinear().domain(f.dom).range([f.bottom, f.top]);
    var clipId = "clip" + fi;
    svg.append("clipPath").attr("id", clipId).append("rect")
        .attr("x", f.x0).attr("y", f.top).attr("width", facetW).attr("height", f.bottom - f.top);
    var inner = g.append("g").attr("clip-path", "url(#" + clipId + ")");

    f.boxes.forEach(function (b, i) {
        var cx = x(groups[i]), hw = 8.5;
        inner.append("line").attr("x1", cx).attr("x2", cx).attr("y1", y(b[0])).attr("y2", y(b[4]))
            .attr("stroke", "#2b2b2b").attr("stroke-width", 1.5);
        inner.append("rect").attr("x", cx - hw).attr("y", y(b[3])).attr("width", 2 * hw)
            .attr("height", Math.max(0, y(b[1]) - y(b[3])))
            .attr("fill", boxFill[i]).attr("stroke", "#2b2b2b").attr("stroke-width", 1.5);
        inner.append("line").attr("x1", cx - hw).attr("x2", cx + hw).attr("y1", y(b[2])).attr("y2", y(b[2]))
            .attr("stroke", "#2b2b2b").attr("stroke-width", 2.6);
    });
    f.pts.forEach(function (set, i) {
        inner.selectAll(".p" + i).data(set).enter().append("circle")
            .attr("cx", function (d) { return x(groups[i]) + d[1] * x.step(); })
            .attr("cy", function (d) { return y(d[0]); })
            .attr("r", 2.6).attr("fill", ptColor[i]).attr("fill-opacity", 0.45);
    });
    f.tests.forEach(function (t) {
        var x1 = x(t[0]), x2 = x(t[1]), yy = y(t[3]);
        inner.append("path").attr("d", "M" + x1 + "," + (yy + 10) + "V" + yy + "H" + x2 + "V" + (yy + 10))
            .attr("fill", "none").attr("stroke", "#222").attr("stroke-width", 1);
        inner.append("text").attr("x", (x1 + x2) / 2).attr("y", yy - 1).attr("text-anchor", "middle")
            .attr("font-size", 15).attr("fill", "#111").text(t[2]);
    });

    g.append("rect").attr("x", f.x0).attr("y", f.top).attr("width", facetW).attr("height", f.bottom - f.top)
        .attr("fill", "none").attr("stroke", "#222").attr("stroke-width", 1.4);
    g.append("rect").attr("x", f.x0).attr("y", f.strip).attr("width", facetW).attr("height", f.top - f.strip)
        .attr("fill", "#f7f7f7").attr("stroke", "#222").attr("stroke-width", 1.4);
    g.append("text").attr("x", f.x0 + facetW / 2).attr("y", (f.strip + f.top) / 2).attr("dy", "0.36em")
        .attr("text-anchor", "middle").attr("font-size", 12.5).attr("fill", "#333").text(f.name);

    var ay = g.append("g").attr("transform", "translate(" + f.x0 + ",0)")
        .call(d3.axisLeft(y).tickValues(f.ticks).tickFormat(d3.format(f.fmt)).tickSize(4).tickPadding(3));
    ay.select(".domain").remove();
    styleAxis(ay, "#555", 15, 1.3);
    var ax = g.append("g").attr("transform", "translate(0," + f.bottom + ")")
        .call(d3.axisBottom(x).tickSize(4).tickPadding(5));
    ax.select(".domain").remove();
    styleAxis(ax, "#222", 15, 1.3);
    if (!f.labels) ax.selectAll("text").remove();
});

svg.append("text").attr("transform", "translate(67,1723) rotate(-90)").attr("text-anchor", "middle")
    .attr("font-size", 15).attr("fill", "#111").text("Relative abundance");
</script>
</body>
</html>
